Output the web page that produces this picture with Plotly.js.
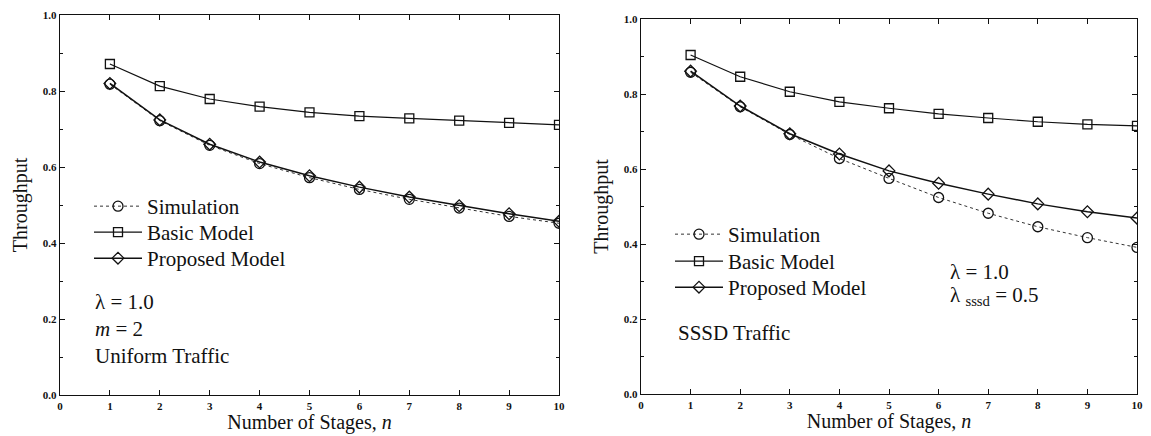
<!DOCTYPE html>
<html>
<head>
<meta charset="utf-8">
<script src="https://cdn.plot.ly/plotly-3.0.1.min.js"></script>
<style>html,body{margin:0;padding:0;background:#fff;}#chart{width:1151px;height:436px;}</style>
</head>
<body>
<div id="chart"></div>
<script>
// ---- data ----
const stages = [1, 2, 3, 4, 5, 6, 7, 8, 9, 10];
const xTickVals = [0, 1, 2, 3, 4, 5, 6, 7, 8, 9, 10];
const yTickVals = [0.0, 0.2, 0.4, 0.6, 0.8, 1.0];
const yTickText = ["0.0", "0.2", "0.4", "0.6", "0.8", "1.0"];
const seriesNames = ["Simulation", "Basic Model", "Proposed Model"];

// Left panel: uniform traffic
const simLeft   = [0.818, 0.722, 0.657, 0.609, 0.572, 0.541, 0.515, 0.492, 0.470, 0.452];
const basicLeft = [0.871, 0.813, 0.779, 0.759, 0.744, 0.734, 0.728, 0.722, 0.716, 0.711];
const propLeft  = [0.820, 0.724, 0.660, 0.613, 0.577, 0.547, 0.521, 0.498, 0.477, 0.457];

// Right panel: SSSD traffic
const simRight   = [0.858, 0.766, 0.692, 0.628, 0.575, 0.524, 0.482, 0.446, 0.417, 0.391];
const basicRight = [0.904, 0.846, 0.806, 0.779, 0.762, 0.747, 0.736, 0.726, 0.719, 0.715];
const propRight  = [0.861, 0.768, 0.694, 0.640, 0.595, 0.562, 0.533, 0.507, 0.486, 0.469];

// ---- styling ----
const W = 1151, H = 436;
const serif = "Liberation Serif, Times New Roman, serif";
const ink = "#111";
const styles = [
  {line: {color: "#333", width: 1, dash: "dot"},  marker: {symbol: "circle-open",  size: 10, color: ink, line: {width: 1.3, color: ink}}},
  {line: {color: ink, width: 1.2, dash: "solid"}, marker: {symbol: "square-open",  size: 9,  color: ink, line: {width: 1.3, color: ink}}},
  {line: {color: ink, width: 1.5, dash: "solid"}, marker: {symbol: "diamond-open", size: 9,  color: ink, line: {width: 1.3, color: ink}}}
];

function mk(y, i, xa, ya, leg) {
  return {
    x: stages, y: y, name: seriesNames[i], type: "scatter", mode: "lines+markers",
    xaxis: xa, yaxis: ya, legend: leg, showlegend: true,
    line: styles[i].line, marker: styles[i].marker
  };
}

const traces = [
  mk(simLeft, 0, "x", "y", "legend"),
  mk(basicLeft, 1, "x", "y", "legend2"),
  mk(propLeft, 2, "x", "y", "legend3"),
  mk(simRight, 0, "x2", "y2", "legend4"),
  mk(basicRight, 1, "x2", "y2", "legend5"),
  mk(propRight, 2, "x2", "y2", "legend6")
];

const tickFont = {family: serif, size: 11, color: ink, weight: "bold"};
const titleFont = {family: serif, size: 20, color: ink};

function xAxis(dom, anchor) {
  return {
    domain: dom, anchor: anchor, range: [0, 10], tickvals: xTickVals,
    ticks: "inside", ticklen: 5, tickwidth: 1, tickcolor: ink,
    showline: true, linecolor: ink, linewidth: 1.3, mirror: "ticks",
    showgrid: false, zeroline: false, tickfont: tickFont,
    title: {text: "Number of Stages, <i>n</i>", font: titleFont, standoff: 0}
  };
}
function yAxis(dom, anchor) {
  return {
    domain: dom, anchor: anchor, range: [0, 1], tickvals: yTickVals, ticktext: yTickText,
    ticks: "inside", ticklen: 5, tickwidth: 1, tickcolor: ink,
    minor: {dtick: 0.1, tick0: 0, ticks: "inside", ticklen: 3, tickcolor: ink},
    showline: true, linecolor: ink, linewidth: 1.3, mirror: "ticks",
    showgrid: false, zeroline: false, tickfont: tickFont,
    title: {text: "Throughput", font: titleFont, standoff: 9}
  };
}

const legFont = {family: serif, size: 21, color: ink};
function legend(px, py) {
  return {x: px / W, y: 1 - py / H, xanchor: "left", yanchor: "top",
    bgcolor: "rgba(0,0,0,0)", borderwidth: 0, font: legFont,
    itemwidth: 48, tracegroupgap: 0, traceorder: "normal"};
}

function ann(text, px, py) {
  return {text: text, x: px / W, y: 1 - py / H, xref: "paper", yref: "paper",
    xanchor: "left", yanchor: "middle", showarrow: false,
    font: {family: serif, size: 21, color: ink}};
}

const layout = {
  width: W, height: H,
  margin: {l: 0, r: 0, t: 0, b: 0},
  paper_bgcolor: "#fff", plot_bgcolor: "#fff",
  showlegend: true,
  xaxis: xAxis([60 / W, 559 / W], "y"),
  yaxis: yAxis([1 - 395 / H, 1 - 15 / H], "x"),
  xaxis2: xAxis([641 / W, 1137 / W], "y2"),
  yaxis2: yAxis([1 - 394 / H, 1 - 19 / H], "x2"),
  legend: legend(89, 186),
  legend2: legend(89, 212),
  legend3: legend(89, 238),
  legend4: legend(670, 214),
  legend5: legend(670, 241),
  legend6: legend(670, 267),
  annotations: [
    ann("λ = 1.0", 93, 302),
    ann("<i>m</i> = 2", 93, 329),
    ann("Uniform Traffic", 93, 356),
    ann("SSSD Traffic", 676, 333),
    ann("λ = 1.0", 948, 272),
    ann("λ <sub>sssd</sub> = 0.5", 948, 296)
  ]
};

Plotly.newPlot("chart", traces, layout, {displayModeBar: false, staticPlot: true});
</script>
</body>
</html>
